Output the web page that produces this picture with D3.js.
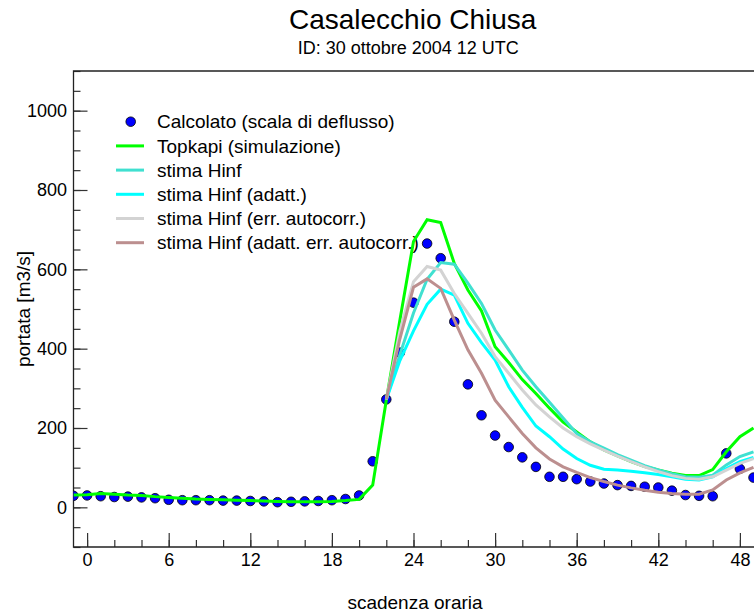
<!DOCTYPE html>
<html>
<head>
<meta charset="utf-8">
<script src="https://cdn.jsdelivr.net/npm/d3@7/dist/d3.min.js"></script>
<style>
  body { margin: 0; background: #fff; }
  svg { display: block; }
  text { font-family: "Liberation Sans", Arial, Helvetica, sans-serif; fill: #000; }
</style>
</head>
<body>
<svg id="chart" width="754" height="616"></svg>
<script>
// Hourly lead times (hours after the issue time)
const hours = [-1, 0, 1, 2, 3, 4, 5, 6, 7, 8, 9, 10, 11, 12, 13, 14, 15, 16, 17, 18, 19, 20,
  21, 22, 23, 24, 25, 26, 27, 28, 29, 30, 31, 32, 33, 34, 35, 36, 37, 38, 39, 40,
  41, 42, 43, 44, 45, 46, 47, 48, 49];

// Discharge from the rating curve (m3/s)
const calcolato = [29, 30, 28, 26, 27, 25, 23, 19, 18, 18, 18, 17, 17, 16, 15, 13, 14, 15, 16, 18, 21, 30,
  116, 272, 390, 516, 665, 628, 468, 310, 232, 181, 152, 126, 102, 77, 77, 71, 65, 60, 56, 54,
  52, 50, 42, 31, 29, 28, 136, 97, 75];

// Topkapi hydrological simulation (m3/s)
const topkapi = [31, 32, 35, 33, 31, 30, 27, 25, 23, 21, 20, 19, 18, 17, 16, 15, 14, 14, 14, 15, 17, 20,
  56, 270, 472, 670, 725, 718, 615, 548, 495, 405, 365, 322, 287, 250, 215, 190, 165, 145, 130, 115,
  103, 94, 86, 80, 80, 95, 140, 178, 200];

// H-infinity estimates start at hour 22
const hinfHours = [22, 23, 24, 25, 26, 27, 28, 29, 30, 31, 32, 33, 34, 35, 36, 37, 38, 39, 40,
  41, 42, 43, 44, 45, 46, 47, 48, 49];
const stimaHinf = [272, 385, 490, 575, 617, 613, 565, 514, 447, 397, 346, 304, 265, 225, 186, 165, 149, 133, 119,
  105, 94, 85, 77, 76, 81, 107, 128, 140];
const stimaHinfAdatt = [272, 370, 445, 512, 550, 535, 464, 415, 371, 304, 252, 205, 178, 147, 123, 106, 96, 94, 91,
  87, 83, 77, 71, 69, 77, 98, 115, 126];
const stimaHinfErr = [272, 445, 569, 607, 598, 539, 489, 439, 380, 338, 296, 258, 228, 200, 178, 160, 144, 129, 115,
  102, 90, 80, 73, 71, 77, 94, 111, 123];
const stimaHinfAdattErr = [272, 425, 555, 576, 552, 472, 397, 338, 270, 228, 186, 150, 122, 102, 88, 75, 65, 56, 49,
  43, 38, 35, 33, 33, 44, 69, 87, 101];

// Axis ticks
const xMajorTicks = [0, 6, 12, 18, 24, 30, 36, 42, 48];
const xMinorTicks = [0, 2, 4, 6, 8, 10, 12, 14, 16, 18, 20, 22, 24, 26, 28, 30, 32, 34, 36, 38, 40, 42, 44, 46, 48];
const yMajorTicks = [0, 200, 400, 600, 800, 1000];
const yMinorTicks = [-100, -50, 0, 50, 100, 150, 200, 250, 300, 350, 400, 450, 500, 550, 600, 650, 700,
  750, 800, 850, 900, 950, 1000, 1050, 1100];

const titleText = "Casalecchio Chiusa";
const subtitleText = "ID: 30 ottobre 2004 12 UTC";
const xLabel = "scadenza oraria";
const yLabel = "portata [m3/s]";

const lineSeries = [
  { name: "Topkapi (simulazione)", color: "#00ff00", x: hours, y: topkapi },
  { name: "stima Hinf", color: "#40e0d0", x: hinfHours, y: stimaHinf },
  { name: "stima Hinf (adatt.)", color: "#00ffff", x: hinfHours, y: stimaHinfAdatt },
  { name: "stima Hinf (err. autocorr.)", color: "#d3d3d3", x: hinfHours, y: stimaHinfErr },
  { name: "stima Hinf (adatt. err. autocorr.)", color: "#bc8f8f", x: hinfHours, y: stimaHinfAdattErr }
];

const svg = d3.select("#chart");
const plotLeft = 73.5, plotRight = 753.5, plotTop = 71, plotBottom = 547;

const x = d3.scaleLinear().domain([-1, 49]).range([plotLeft, plotRight]);
const y = d3.scaleLinear().domain([-100, 1100]).range([plotBottom, plotTop]);

svg.append("defs").append("clipPath").attr("id", "plotclip")
  .append("rect").attr("x", plotLeft).attr("y", plotTop)
  .attr("width", 760 - plotLeft).attr("height", plotBottom - plotTop);

// Titles
svg.append("text").attr("x", 412.7).attr("y", 29.3).attr("text-anchor", "middle")
  .style("font-size", "28px").text(titleText);
svg.append("text").attr("x", 408.3).attr("y", 54.3).attr("text-anchor", "middle")
  .style("font-size", "18px").text(subtitleText);

// Y axis: minor and major ticks drawn inward
const yMinor = svg.append("g").attr("transform", `translate(${plotLeft},0)`)
  .call(d3.axisLeft(y).tickValues(yMinorTicks).tickSize(-7).tickFormat(""));
const yMajor = svg.append("g").attr("transform", `translate(${plotLeft},0)`)
  .call(d3.axisLeft(y).tickValues(yMajorTicks).tickSize(-14).tickPadding(6.5).tickFormat(d3.format("d")));
// X axis
const xMinor = svg.append("g").attr("transform", `translate(0,${plotBottom})`)
  .call(d3.axisBottom(x).tickValues(xMinorTicks).tickSize(-7).tickFormat(""));
const xMajor = svg.append("g").attr("transform", `translate(0,${plotBottom})`)
  .call(d3.axisBottom(x).tickValues(xMajorTicks).tickSize(-14).tickPadding(6.7).tickFormat(d3.format("d")));

[yMinor, yMajor, xMinor, xMajor].forEach(g => {
  g.select(".domain").remove();
  g.selectAll(".tick line").attr("stroke", "#333").attr("stroke-width", 1.2);
  g.selectAll(".tick text").style("font-size", "18px")
    .style("font-family", "'Liberation Sans', Arial, sans-serif").attr("fill", "#000");
});

// Frame
svg.append("path")
  .attr("d", `M${760},${plotTop}H${plotLeft}V${plotBottom}H${760}`)
  .attr("fill", "none").attr("stroke", "#222").attr("stroke-width", 1.3);

// Axis titles
svg.append("text").attr("x", 415).attr("y", 609).attr("text-anchor", "middle")
  .style("font-size", "19px").text(xLabel);
svg.append("text").attr("transform", `translate(30,309) rotate(-90)`).attr("text-anchor", "middle")
  .style("font-size", "19px").text(yLabel);

// Legend
const legend = svg.append("g");
const legendX = 116, legendY = 121.7, legendStep = 24.2;
const legendItems = [{ name: "Calcolato (scala di deflusso)", dot: true }].concat(lineSeries);
legendItems.forEach((d, i) => {
  const cy = legendY + i * legendStep;
  if (d.dot) {
    legend.append("circle").attr("cx", legendX + 14.7).attr("cy", cy).attr("r", 4.8)
      .attr("fill", "#0000ff").attr("stroke", "#000").attr("stroke-width", 0.8);
  } else {
    legend.append("line").attr("x1", legendX).attr("x2", legendX + 28).attr("y1", cy).attr("y2", cy)
      .attr("stroke", d.color).attr("stroke-width", 3);
  }
  legend.append("text").attr("x", 157).attr("y", cy).attr("dy", "0.35em")
    .style("font-size", "19px").text(d.name);
});

const plot = svg.append("g").attr("clip-path", "url(#plotclip)");

// Observed points
plot.selectAll("circle.obs").data(hours.map((h, i) => [h, calcolato[i]])).join("circle")
  .attr("class", "obs")
  .attr("cx", d => x(d[0])).attr("cy", d => y(d[1])).attr("r", 4.8)
  .attr("fill", "#0000ff").attr("stroke", "#000").attr("stroke-width", 0.8);

// Simulated and estimated series
const line = d3.line().x(d => x(d[0])).y(d => y(d[1]));
lineSeries.forEach(s => {
  plot.append("path")
    .datum(s.x.map((h, i) => [h, s.y[i]]))
    .attr("d", line)
    .attr("fill", "none").attr("stroke", s.color).attr("stroke-width", 3)
    .attr("stroke-linejoin", "miter");
});
</script>
</body>
</html>
